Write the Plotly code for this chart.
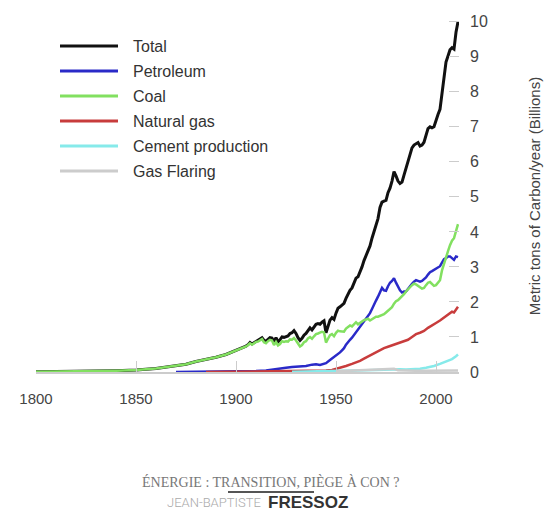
import plotly.graph_objects as go

# ---------------- data (billions of metric tons of carbon per year) ----------------
total_years = [1800, 1810, 1820, 1830, 1840, 1850, 1860, 1870, 1875, 1880, 1885, 1890, 1895,
               1900, 1902, 1904, 1905, 1906, 1907, 1908, 1909] + list(range(1910, 2012))
total_vals = [0.01, 0.01, 0.015, 0.025, 0.035, 0.055, 0.10, 0.17, 0.22, 0.30, 0.35, 0.42, 0.50,
              0.62, 0.66, 0.70, 0.74, 0.78, 0.84, 0.80, 0.84,
              0.88, 0.90, 0.94, 0.98, 0.90, 0.88, 0.93, 0.98, 0.97, 0.86,   # 1910-1919
              0.98, 0.86, 0.92, 1.00, 0.99, 1.02, 1.03, 1.10, 1.12, 1.18,   # 1920-1929
              1.10, 0.98, 0.90, 0.96, 1.05, 1.10, 1.20, 1.26, 1.20, 1.28,   # 1930-1939
              1.36, 1.38, 1.36, 1.42, 1.46, 1.12, 1.30, 1.48, 1.55, 1.50,   # 1940-1949
              1.68, 1.82, 1.86, 1.92, 1.96, 2.10, 2.24, 2.33, 2.40, 2.55,   # 1950-1959
              2.68, 2.72, 2.85, 3.00, 3.18, 3.32, 3.48, 3.60, 3.82, 4.00,   # 1960-1969
              4.15, 4.38, 4.70, 4.85, 4.88, 4.90, 5.12, 5.25, 5.45, 5.72,   # 1970-1979
              5.60, 5.45, 5.38, 5.42, 5.62, 5.82, 6.00, 6.20, 6.40, 6.48,   # 1980-1989
              6.52, 6.55, 6.45, 6.48, 6.56, 6.75, 6.95, 7.00, 6.97, 7.00,   # 1990-1999
              7.20, 7.35, 7.50, 8.00, 8.50, 8.85, 9.02, 9.20, 9.26, 9.22,   # 2000-2009
              9.70, 10.0]                                                  # 2010-2011

coal_years = total_years
coal_vals = [0.01, 0.01, 0.015, 0.025, 0.035, 0.055, 0.10, 0.17, 0.22, 0.30, 0.35, 0.42, 0.50,
             0.61, 0.65, 0.69, 0.73, 0.77, 0.82, 0.78, 0.82,
             0.86, 0.87, 0.90, 0.94, 0.85, 0.82, 0.88, 0.92, 0.90, 0.77,    # 1910-1919
             0.86, 0.76, 0.80, 0.88, 0.86, 0.88, 0.87, 0.93, 0.92, 0.97,    # 1920-1929
             0.90, 0.80, 0.73, 0.77, 0.85, 0.88, 0.96, 1.00, 0.95, 1.02,    # 1930-1939
             1.08, 1.10, 1.12, 1.15, 1.13, 0.84, 0.95, 1.05, 1.08, 1.02,    # 1940-1949
             1.12, 1.18, 1.16, 1.16, 1.15, 1.24, 1.30, 1.33, 1.30, 1.35,    # 1950-1959
             1.42, 1.36, 1.40, 1.45, 1.48, 1.50, 1.52, 1.47, 1.50, 1.55,    # 1960-1969
             1.58, 1.58, 1.60, 1.64, 1.65, 1.70, 1.75, 1.82, 1.85, 1.95,    # 1970-1979
             2.02, 2.05, 2.10, 2.15, 2.22, 2.30, 2.35, 2.42, 2.48, 2.52,    # 1980-1989
             2.50, 2.47, 2.42, 2.38, 2.40, 2.48, 2.55, 2.57, 2.50, 2.46,    # 1990-1999
             2.48, 2.55, 2.62, 2.90, 3.10, 3.30, 3.45, 3.62, 3.75, 3.82,    # 2000-2009
             4.00, 4.22]                                                   # 2010-2011

petro_years = [1870, 1890, 1900, 1905, 1910, 1915, 1920, 1922, 1925, 1928, 1930, 1932, 1935,
               1938, 1940, 1942, 1944, 1945, 1947, 1948] + list(range(1950, 2012))
petro_vals = [0.0, 0.005, 0.01, 0.015, 0.025, 0.04, 0.07, 0.09, 0.12, 0.14, 0.15, 0.14, 0.17,
              0.21, 0.22, 0.20, 0.24, 0.25, 0.34, 0.38,
              0.46, 0.52, 0.56, 0.62, 0.68, 0.78, 0.86, 0.92, 0.98, 1.06,   # 1950-1959
              1.14, 1.22, 1.30, 1.38, 1.45, 1.52, 1.60, 1.68, 1.80, 1.94,   # 1960-1969
              2.04, 2.15, 2.30, 2.40, 2.33, 2.32, 2.45, 2.55, 2.60, 2.68,   # 1970-1979
              2.55, 2.42, 2.33, 2.27, 2.30, 2.30, 2.38, 2.44, 2.52, 2.58,   # 1980-1989
              2.62, 2.60, 2.58, 2.60, 2.65, 2.70, 2.78, 2.85, 2.88, 2.92,   # 1990-1999
              2.95, 3.00, 3.02, 3.12, 3.22, 3.25, 3.30, 3.30, 3.24, 3.20,   # 2000-2009
              3.30, 3.28]

gas_years = [1885, 1900, 1910, 1920, 1930, 1940, 1945, 1948, 1950, 1952, 1955, 1958, 1960, 1962,
             1964, 1966, 1968, 1970, 1972, 1974, 1976, 1978, 1980, 1982, 1984, 1986, 1988, 1990,
             1992, 1994, 1996, 1998, 2000, 2002, 2004, 2006, 2008, 2009, 2010, 2011]
gas_vals = [0.0, 0.005, 0.01, 0.015, 0.02, 0.03, 0.04, 0.06, 0.09, 0.11, 0.17, 0.23, 0.27, 0.32,
            0.38, 0.44, 0.51, 0.58, 0.63, 0.68, 0.72, 0.76, 0.79, 0.82, 0.87, 0.92, 1.00, 1.08,
            1.12, 1.17, 1.26, 1.32, 1.40, 1.47, 1.55, 1.63, 1.72, 1.70, 1.80, 1.86]

cement_years = [1928, 1950, 1960, 1970, 1975, 1979, 1982, 1985, 1988, 1992, 1995, 1999, 2002,
                2005, 2008, 2010, 2011]
cement_vals = [0.005, 0.02, 0.04, 0.06, 0.07, 0.09, 0.08, 0.07, 0.075, 0.09, 0.12, 0.17, 0.23,
               0.29, 0.37, 0.45, 0.50]

flaring_years = [1950, 1955, 1960, 1965, 1970, 1975, 1979, 1981, 1984, 1990, 1995, 2000, 2005,
                 2011]
flaring_vals = [0.02, 0.03, 0.04, 0.06, 0.08, 0.09, 0.09, 0.05, 0.04, 0.035, 0.035, 0.04, 0.045,
                0.045]

series_names = ["Total", "Petroleum", "Coal", "Natural gas", "Cement production", "Gas Flaring"]
series_colors = ["#111111", "#2a2ac8", "#82e060", "#c83c3c", "#86eaea", "#cccccc"]
series_widths = [3, 2.5, 2.5, 2.5, 2.5, 2.5]
series_data = [(total_years, total_vals), (petro_years, petro_vals), (coal_years, coal_vals),
               (gas_years, gas_vals), (cement_years, cement_vals), (flaring_years, flaring_vals)]

x_ticks = [1800, 1850, 1900, 1950, 2000]
y_ticks = list(range(0, 11))
y_title = "Metric tons of Carbon/year (Billions)"

# ---------------- figure ----------------
# body margin is removed (post_script below), so figure pixels = window pixels
W, H = 546, 511
L, R, T, B = 36, 459, 20, 372   # plot area in pixels


def px2paper_x(px):
    return (px - L) / (R - L)


def px2paper_y(py):
    return (B - py) / (B - T)


fig = go.Figure()
for name, color, width, (xs, ys) in zip(series_names, series_colors, series_widths, series_data):
    fig.add_trace(go.Scatter(x=xs, y=ys, mode="lines", name=name, showlegend=False,
                             line=dict(color=color, width=width), hoverinfo="x+y+name"))

shapes = []
annotations = []
# manual legend (long line samples as in the reference)
for i, (name, color) in enumerate(zip(series_names, series_colors)):
    py = 46 + 25 * i
    shapes.append(dict(type="line", xref="paper", yref="paper",
                       x0=px2paper_x(60), x1=px2paper_x(118), y0=px2paper_y(py), y1=px2paper_y(py),
                       line=dict(color=color, width=3)))
    annotations.append(dict(text=name, xref="paper", yref="paper", x=px2paper_x(131),
                            y=px2paper_y(py), xanchor="left", yanchor="middle", showarrow=False,
                            font=dict(family="Liberation Sans, Arial, sans-serif", size=16,
                                      color="#333333")))

# footer
annotations.append(dict(text="ÉNERGIE : TRANSITION, PIÈGE À CON ?", xref="paper", yref="paper",
                        x=px2paper_x(271), y=px2paper_y(482), xanchor="center", yanchor="middle",
                        showarrow=False,
                        font=dict(family="Liberation Serif, serif", size=14, color="#777777")))
shapes.append(dict(type="line", xref="paper", yref="paper",
                   x0=px2paper_x(228), x1=px2paper_x(314), y0=px2paper_y(492), y1=px2paper_y(492),
                   line=dict(color="#555555", width=2)))
annotations.append(dict(text="JEAN-BAPTISTE", xref="paper", yref="paper",
                        x=px2paper_x(263), y=px2paper_y(502), xanchor="right", yanchor="middle",
                        showarrow=False,
                        font=dict(family="Roboto, sans-serif", size=13, color="#aaaaaa",
                                  weight=300)))
annotations.append(dict(text="<b>FRESSOZ</b>", xref="paper", yref="paper",
                        x=px2paper_x(266), y=px2paper_y(502), xanchor="left", yanchor="middle",
                        showarrow=False,
                        font=dict(family="Liberation Sans, Arial, sans-serif", size=17,
                                  color="#333333")))

fig.update_layout(
    width=W, height=H,
    margin=dict(l=L, r=W - R, t=T, b=H - B, pad=0, autoexpand=False),
    paper_bgcolor="white", plot_bgcolor="white",
    font=dict(family="Liberation Sans, Arial, sans-serif", color="#444444"),
    shapes=shapes, annotations=annotations,
    xaxis=dict(range=[1800, 2011.5], tickvals=x_ticks, ticks="inside", ticklen=11,
               tickcolor="#cccccc", tickwidth=1, showline=True, linecolor="#cccccc",
               linewidth=2, showgrid=False, zeroline=False, automargin=False,
               tickfont=dict(size=15, color="#444444"), ticklabelstandoff=12),
    yaxis=dict(range=[0, 10.05], side="right", tickvals=y_ticks, ticks="inside", ticklen=10,
               tickcolor="#cccccc", tickwidth=1, showline=False, showgrid=False,
               zeroline=False, automargin=False,
               tickfont=dict(size=16, color="#444444"), ticklabelstandoff=10,
               title=dict(text=y_title, standoff=42,
                          font=dict(size=15, color="#444444"))),
)

fig.write_html("out.html",
               config={"displayModeBar": False},
               post_script="document.body.style.margin='0px';"
                           "document.body.style.overflow='hidden';")
